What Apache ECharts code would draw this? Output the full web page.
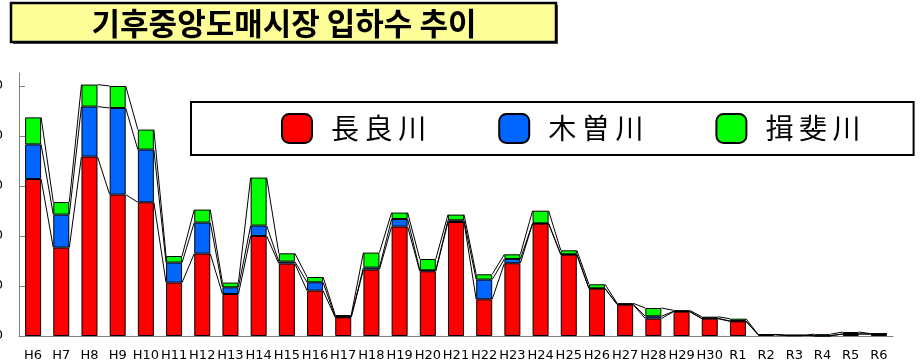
<!DOCTYPE html>
<html>
<head>
<meta charset="utf-8">
<script src="https://cdn.jsdelivr.net/npm/echarts@6/dist/echarts.min.js"></script>
<style>
  html, body { margin: 0; padding: 0; background: #fff; }
  #main { width: 922px; height: 360px; }
</style>
</head>
<body>
<div id="main"></div>
<script>
var categories = ['H6','H7','H8','H9','H10','H11','H12','H13','H14','H15','H16','H17','H18','H19','H20',
    'H21','H22','H23','H24','H25','H26','H27','H28','H29','H30','R1','R2','R3','R4','R5','R6'];
var nagara = [1570,884,1794,1414,1337,534,824,420,1000,724,454,187,664,1094,647,
    1140,367,727,1124,814,474,314,174,244,174,147,13,7,3,20,20];
var kiso   = [346,330,500,866,527,200,310,67,104,20,83,3,20,76,10,
    17,197,43,3,3,3,3,23,3,3,3,0,0,0,0,0];
var ibi    = [270,126,220,220,200,66,130,47,480,83,53,20,150,64,113,
    57,53,47,126,40,40,10,83,10,16,23,3,0,15,20,3];
var yTicks = [0,500,1000,1500,2000,2500];
var names = ['長良川','木曽川','揖斐川'];
var colors = ['#ff0000','#0066ff','#00ff00'];

var barWidth = 16;

// cumulative heights for the series lines
var lv1 = [], lv2 = [], lv3 = [];
for (var i = 0; i < categories.length; i++) {
    lv1.push(nagara[i]);
    lv2.push(nagara[i] + kiso[i]);
    lv3.push(nagara[i] + kiso[i] + ibi[i]);
}

function seriesLines(params, api) {
    var i = api.value(0);
    if (i >= categories.length - 1) return;
    var half = barWidth / 2;
    var children = [];
    [lv1, lv2, lv3].forEach(function (lv) {
        var p1 = api.coord([i, lv[i]]);
        var p2 = api.coord([i + 1, lv[i + 1]]);
        children.push({
            type: 'line',
            shape: {x1: p1[0] + half, y1: p1[1], x2: p2[0] - half, y2: p2[1]},
            style: {stroke: '#000', lineWidth: 1}
        });
    });
    return {type: 'group', children: children};
}

function barSeries(name, data, color) {
    return {
        name: name,
        type: 'bar',
        stack: 'total',
        barWidth: barWidth,
        itemStyle: {color: color, borderColor: '#000', borderWidth: 1},
        emphasis: {disabled: true},
        data: data
    };
}

var myChart = echarts.init(document.getElementById('main'));
var option = {
    animation: false,
    graphic: [
        {
            type: 'rect',
            shape: {x: 13, y: 5, width: 545, height: 39},
            style: {fill: '#555'},
            z: 100
        },
        {
            type: 'rect',
            shape: {x: 11, y: 3, width: 545, height: 39},
            style: {fill: '#ffff99', stroke: '#000', lineWidth: 2.5},
            z: 101
        },
        {
            type: 'text',
            x: 284, y: 23,
            style: {
                text: '기후중앙도매시장 입하수 추이',
                fontFamily: 'Noto Sans CJK KR',
                fontWeight: 'bold',
                fontSize: 31,
                fill: '#000',
                align: 'center',
                verticalAlign: 'middle'
            },
            z: 102
        }
    ],
    legend: {
        data: names,
        left: 191,
        top: 102,
        orient: 'horizontal',
        itemWidth: 30,
        itemHeight: 29,
        itemGap: 72,
        padding: [11, 53, 11, 90],
        borderColor: '#000',
        borderWidth: 2,
        backgroundColor: '#fff',
        selectedMode: false,
        formatter: function (name) {
            return name.split('').join('\u2009');
        },
        textStyle: {
            fontFamily: 'Noto Sans CJK JP',
            fontSize: 28,
            lineHeight: 29,
            color: '#000',
            padding: [0, 0, 0, 14]
        }
    },
    grid: {
        left: 19, right: 29, top: 73, bottom: 24,
        containLabel: false,
        outerBoundsMode: 'none'
    },
    xAxis: {
        type: 'category',
        data: categories,
        axisLine: {lineStyle: {color: '#808080', width: 1}},
        axisTick: {inside: true, length: 4, lineStyle: {color: '#808080'}},
        axisLabel: {
            interval: 0,
            margin: 13,
            fontFamily: 'DejaVu Sans',
            fontSize: 13,
            color: '#000'
        }
    },
    yAxis: {
        type: 'value',
        min: 0,
        max: 2630,
        interval: 500,
        splitLine: {show: false},
        axisLine: {show: true, lineStyle: {color: '#808080', width: 1}},
        axisTick: {show: true, inside: true, length: 6, customValues: yTicks, lineStyle: {color: '#808080'}},
        axisLabel: {
            customValues: yTicks,
            margin: 16,
            fontFamily: 'DejaVu Sans',
            fontSize: 13,
            color: '#000',
            formatter: function (v) { return v.toLocaleString('en-US'); }
        }
    },
    series: [
        barSeries(names[0], nagara, colors[0]),
        barSeries(names[1], kiso, colors[1]),
        barSeries(names[2], ibi, colors[2]),
        {
            type: 'custom',
            name: 'lines',
            renderItem: seriesLines,
            silent: true,
            z: 3,
            data: categories.map(function (c, i) { return [i, lv3[i]]; }),
            encode: {x: 0, y: 1}
        }
    ]
};
myChart.setOption(option);
</script>
</body>
</html>
